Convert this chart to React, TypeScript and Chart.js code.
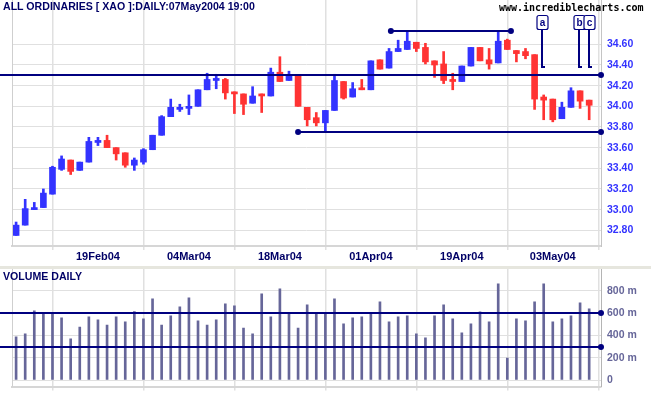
import React, { useEffect, useRef } from 'react';
import { Chart, registerables } from 'chart.js';

Chart.register(...registerables);

// ---------- data ----------
const openP = [
  32.75, 32.85, 33.0, 33.02, 33.15, 33.39, 33.48, 33.38, 33.46, 33.65,
  33.67, 33.6, 33.55, 33.43, 33.46, 33.58, 33.72, 33.9, 33.97, 33.98,
  34.0, 34.16, 34.25, 34.26, 34.14, 34.12, 34.03, 34.12, 34.1, 34.33,
  34.25, 34.3, 33.99, 33.89, 33.84, 33.96, 34.24, 34.09, 34.17, 34.16,
  34.45, 34.37, 34.53, 34.55, 34.62, 34.57, 34.44, 34.41, 34.26, 34.24,
  34.39, 34.57, 34.45, 34.42, 34.64, 34.54, 34.53, 34.5, 34.09, 34.07,
  33.88, 33.99, 34.15, 34.06,
];
const highP = [
  32.88, 33.1, 33.07, 33.2, 33.42, 33.52, 33.48, 33.46, 33.7, 33.7,
  33.72, 33.6, 33.55, 33.5, 33.59, 33.72, 33.91, 34.07, 34.02, 34.11,
  34.16, 34.32, 34.31, 34.27, 34.14, 34.12, 34.19, 34.12, 34.37, 34.48,
  34.34, 34.3, 33.99, 33.94, 33.96, 34.31, 34.24, 34.23, 34.26, 34.44,
  34.45, 34.56, 34.64, 34.72, 34.62, 34.61, 34.44, 34.53, 34.32, 34.39,
  34.57, 34.57, 34.56, 34.73, 34.65, 34.54, 34.56, 34.5, 34.11, 34.07,
  34.04, 34.18, 34.15, 34.06,
];
const lowP = [
  32.75, 32.85, 33.0, 33.02, 33.15, 33.38, 33.34, 33.38, 33.46, 33.62,
  33.6, 33.48, 33.41, 33.38, 33.44, 33.58, 33.72, 33.9, 33.95, 33.92,
  34.0, 34.16, 34.17, 34.07, 33.93, 33.92, 34.03, 33.94, 34.1, 34.24,
  34.25, 34.0, 33.81, 33.81, 33.76, 33.96, 34.07, 34.09, 34.16, 34.16,
  34.36, 34.37, 34.53, 34.55, 34.53, 34.41, 34.28, 34.22, 34.16, 34.24,
  34.39, 34.44, 34.36, 34.42, 34.55, 34.43, 34.46, 33.97, 33.87, 33.85,
  33.88, 33.99, 33.98, 33.87,
];
const closeP = [
  32.85, 33.01, 33.02, 33.16, 33.41, 33.49, 33.37, 33.46, 33.66, 33.67,
  33.6, 33.54, 33.43, 33.48, 33.58, 33.72, 33.9, 33.99, 33.99, 34.0,
  34.16, 34.26, 34.27, 34.13, 34.12, 34.02, 34.1, 34.1, 34.33, 34.24,
  34.3, 34.0, 33.87, 33.84, 33.96, 34.25, 34.08, 34.17, 34.16, 34.44,
  34.36, 34.53, 34.56, 34.63, 34.56, 34.43, 34.4, 34.25, 34.24, 34.39,
  34.57, 34.44, 34.41, 34.63, 34.55, 34.51, 34.49, 34.07, 34.06, 33.87,
  33.99, 34.15, 34.05, 34.01,
];
const volumeM = [
  386, 413, 619, 598, 604, 556, 368, 475, 565, 538,
  493, 565, 520, 613, 547, 727, 493, 574, 655, 735,
  529, 493, 538, 682, 664, 466, 413, 771, 565, 816,
  601, 466, 673, 601, 598, 727, 502, 556, 565, 598,
  700, 520, 565, 574, 413, 377, 574, 673, 547, 422,
  502, 610, 520, 861, 197, 547, 529, 700, 861, 520,
  547, 574, 691, 637,
];
const dateTickIndex = [9, 19, 29, 39, 49, 59];
const dateTickLabels = ['19Feb04', '04Mar04', '18Mar04', '01Apr04', '19Apr04', '03May04'];
const priceTicks = [32.8, 33.0, 33.2, 33.4, 33.6, 33.8, 34.0, 34.2, 34.4, 34.6];
const volumeTicks = [0, 200, 400, 600, 800];

// trend lines: price level, start index (null = from the left edge), end index (null = to the right edge)
const levelValues = [34.3, 34.73, 33.75];
const levelFrom: (number | null)[] = [null, 41.2, 31.0];
const levelTo: (number | null)[] = [null, 54.4, null];
const volumeLevels = [600, 300];

// labelled vertical markers
const markerLabels = ['a', 'b', 'c'];
const markerIndex = [57.8, 61.9, 63.0];
const markerTop = 34.75;
const markerBottom = 34.38;

// ---------- styles ----------
const FONT = '"Liberation Sans", Arial, Helvetica, sans-serif';
const BLUE = '#3333ff';
const RED = '#ff3333';
const NAVY = '#000080';
const GRID = '#e0e0e0';
const VOL = '#666699';

const X_MIN = -0.45;
const X_MAX = 64.3;

function dot(ctx: CanvasRenderingContext2D, x: number, y: number) {
  ctx.beginPath();
  ctx.arc(x, y, 3, 0, Math.PI * 2);
  ctx.fill();
}

const priceAnnotations = {
  id: 'priceAnnotations',
  afterDatasetsDraw(chart: any) {
    const { ctx, chartArea, scales } = chart;
    const xs = scales.x;
    const ys = scales.y;
    ctx.save();
    // left border
    ctx.strokeStyle = '#cfcfcf';
    ctx.lineWidth = 1;
    ctx.beginPath();
    ctx.moveTo(chartArea.left + 0.5, 0);
    ctx.lineTo(chartArea.left + 0.5, chartArea.bottom);
    ctx.stroke();

    ctx.strokeStyle = NAVY;
    ctx.fillStyle = NAVY;
    ctx.lineWidth = 2;
    levelValues.forEach((v, k) => {
      const y = Math.round(ys.getPixelForValue(v));
      const x1 = levelFrom[k] === null ? 0 : xs.getPixelForValue(levelFrom[k]);
      const x2 = levelTo[k] === null ? chartArea.right : xs.getPixelForValue(levelTo[k]);
      ctx.beginPath();
      ctx.moveTo(x1, y);
      ctx.lineTo(x2, y);
      ctx.stroke();
      if (levelFrom[k] !== null) dot(ctx, x1, y);
      dot(ctx, x2, y);
    });

    markerLabels.forEach((lab, k) => {
      const x = Math.round(xs.getPixelForValue(markerIndex[k]));
      const yTop = Math.round(ys.getPixelForValue(markerTop));
      const yBot = Math.round(ys.getPixelForValue(markerBottom));
      ctx.strokeStyle = NAVY;
      ctx.lineWidth = 2;
      ctx.beginPath();
      ctx.moveTo(x, yTop);
      ctx.lineTo(x, yBot);
      ctx.lineTo(x + 3, yBot);
      ctx.stroke();
      const bw = 11;
      const bh = 14;
      const bx = x - bw / 2;
      const by = yTop - bh;
      ctx.fillStyle = '#ffffff';
      ctx.lineWidth = 1.2;
      ctx.beginPath();
      (ctx as any).roundRect(bx + 0.5, by + 0.5, bw, bh, 2);
      ctx.fill();
      ctx.stroke();
      ctx.fillStyle = NAVY;
      ctx.font = `bold 10px ${FONT}`;
      ctx.textAlign = 'center';
      ctx.textBaseline = 'middle';
      ctx.fillText(lab, x + 0.5, by + bh / 2 + 1);
    });
    ctx.restore();
  },
};

const volumeAnnotations = {
  id: 'volumeAnnotations',
  afterDatasetsDraw(chart: any) {
    const { ctx, chartArea, scales } = chart;
    const ys = scales.y;
    ctx.save();
    ctx.strokeStyle = '#cfcfcf';
    ctx.lineWidth = 1;
    ctx.beginPath();
    ctx.moveTo(chartArea.left + 0.5, 0);
    ctx.lineTo(chartArea.left + 0.5, chartArea.bottom);
    ctx.stroke();
    ctx.strokeStyle = NAVY;
    ctx.fillStyle = NAVY;
    ctx.lineWidth = 2;
    volumeLevels.forEach((v) => {
      const y = Math.round(ys.getPixelForValue(v));
      ctx.beginPath();
      ctx.moveTo(0, y);
      ctx.lineTo(chartArea.right, y);
      ctx.stroke();
      dot(ctx, chartArea.right, y);
    });
    ctx.restore();
  },
};

export default function App() {
  const priceRef = useRef<HTMLCanvasElement>(null);
  const volRef = useRef<HTMLCanvasElement>(null);

  useEffect(() => {
    const idx = closeP.map((_, i) => i);
    const colors = idx.map((i) => (closeP[i] >= openP[i] ? BLUE : RED));

    const xScaleBase = (showLabels: boolean, height: number) => ({
      type: 'linear' as const,
      min: X_MIN,
      max: X_MAX,
      offset: false,
      afterBuildTicks: (axis: any) => {
        axis.ticks = dateTickIndex.map((v) => ({ value: v }));
      },
      afterFit: (axis: any) => {
        axis.height = height;
        axis.paddingLeft = 0;
        axis.paddingRight = 0;
      },
      grid: { color: GRID, lineWidth: 1.5, drawTicks: true, tickLength: 4, tickColor: GRID },
      border: { display: true, color: '#d6d6d6', width: 2 },
      ticks: {
        display: showLabels,
        autoSkip: false,
        maxRotation: 0,
        padding: 0,
        color: '#000066',
        font: { family: FONT, size: 11, weight: 'bold' as const },
        callback: (v: number) => {
          const k = dateTickIndex.indexOf(v);
          return k >= 0 ? dateTickLabels[k] : '';
        },
      },
    });

    const price = new Chart(priceRef.current as HTMLCanvasElement, {
      type: 'bar',
      data: {
        datasets: [
          {
            data: idx.map((i) => ({ x: i, y: [openP[i], closeP[i]] })) as any,
            backgroundColor: colors,
            borderWidth: 0,
            barThickness: 6,
            minBarLength: 2,
            grouped: false,
            order: 0,
          } as any,
          {
            data: idx.map((i) => ({ x: i, y: [lowP[i], highP[i]] })) as any,
            backgroundColor: colors,
            borderWidth: 0,
            barThickness: 2,
            minBarLength: 2,
            grouped: false,
            order: 1,
          } as any,
        ],
      },
      options: {
        animation: false,
        responsive: false,
        events: [],
        layout: { padding: { left: 12, top: 0, right: 0, bottom: 0 } },
        plugins: { legend: { display: false }, tooltip: { enabled: false } },
        scales: {
          x: xScaleBase(true, 20) as any,
          y: {
            type: 'linear',
            position: 'right',
            min: 32.648,
            max: 35.029,
            afterBuildTicks: (axis: any) => {
              axis.ticks = priceTicks.map((v) => ({ value: v }));
            },
            afterFit: (axis: any) => {
              axis.width = 50;
              axis.paddingTop = 0;
              axis.paddingBottom = 0;
            },
            grid: { color: GRID, lineWidth: 1, drawTicks: false },
            border: { display: true, color: '#c4c4c4', width: 1 },
            ticks: {
              padding: 6,
              color: BLUE,
              font: { family: FONT, size: 10.5, weight: 'bold' },
              callback: (v: any) => Number(v).toFixed(2),
            },
          },
        },
      },
      plugins: [priceAnnotations],
    });

    const vol = new Chart(volRef.current as HTMLCanvasElement, {
      type: 'bar',
      data: {
        datasets: [
          {
            data: idx.map((i) => ({ x: i, y: volumeM[i] })) as any,
            backgroundColor: VOL,
            borderWidth: 0,
            barThickness: 2,
            grouped: false,
          } as any,
        ],
      },
      options: {
        animation: false,
        responsive: false,
        events: [],
        layout: { padding: { left: 12, top: 0, right: 0, bottom: 0 } },
        plugins: { legend: { display: false }, tooltip: { enabled: false } },
        scales: {
          x: xScaleBase(false, 8.5) as any,
          y: {
            type: 'linear',
            position: 'right',
            min: -58,
            max: 994,
            afterBuildTicks: (axis: any) => {
              axis.ticks = volumeTicks.map((v) => ({ value: v }));
            },
            afterFit: (axis: any) => {
              axis.width = 50;
              axis.paddingTop = 0;
              axis.paddingBottom = 0;
            },
            grid: { color: GRID, lineWidth: 1, drawTicks: false },
            border: { display: true, color: '#b4b4b4', width: 1 },
            ticks: {
              padding: 6,
              color: VOL,
              font: { family: FONT, size: 10.5, weight: 'bold' },
              callback: (v: any) => (Number(v) === 0 ? '0' : `${v} m`),
            },
          },
        },
      },
      plugins: [volumeAnnotations],
    });

    return () => {
      price.destroy();
      vol.destroy();
    };
  }, []);

  const textBase: React.CSSProperties = {
    position: 'absolute',
    whiteSpace: 'nowrap',
    fontWeight: 'bold',
    pointerEvents: 'none',
  };

  return (
    <div
      style={{
        position: 'absolute',
        left: 0,
        top: 0,
        width: 651,
        height: 395,
        background: '#ffffff',
        overflow: 'hidden',
      }}
    >
      <canvas ref={priceRef} width={651} height={266} style={{ position: 'absolute', left: 0, top: 0 }} />
      <div style={{ position: 'absolute', left: 0, top: 266, width: 651, height: 3, background: '#e6e6de' }} />
      <canvas ref={volRef} width={651} height={126} style={{ position: 'absolute', left: 0, top: 269 }} />
      <div
        style={{
          ...textBase,
          left: 3,
          top: 0,
          fontFamily: FONT,
          fontSize: 10.6,
          lineHeight: '12px',
          color: '#000066',
        }}
      >
        ALL ORDINARIES [ XAO ]:DAILY:07May2004 19:00
      </div>
      <div
        style={{
          ...textBase,
          left: 499,
          top: 1.5,
          fontFamily: '"DejaVu Sans Mono", monospace',
          fontSize: 10,
          lineHeight: '12px',
          color: '#000000',
        }}
      >
        www.incrediblecharts.com
      </div>
      <div
        style={{
          ...textBase,
          left: 3,
          top: 270.3,
          fontFamily: FONT,
          fontSize: 10.6,
          lineHeight: '12px',
          color: '#000066',
        }}
      >
        VOLUME DAILY
      </div>
    </div>
  );
}
